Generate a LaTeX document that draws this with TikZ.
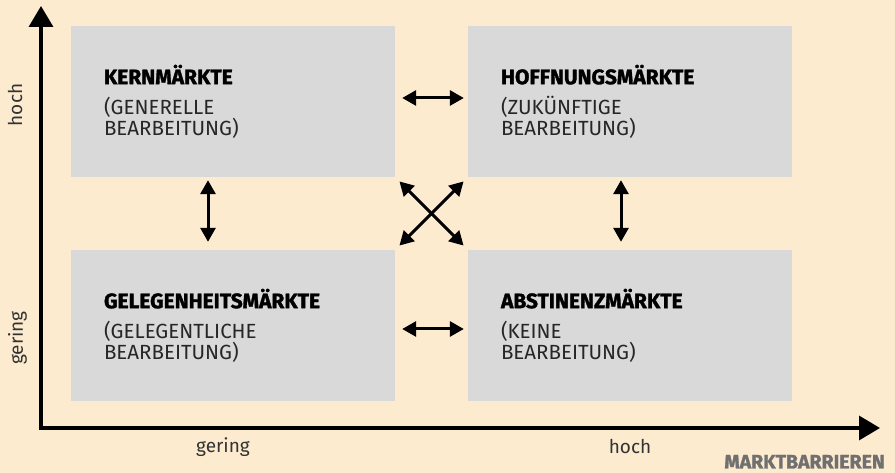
\documentclass[tikz,border=0pt]{standalone}
\usepackage{fontspec}
\usetikzlibrary{arrows.meta}
\setmainfont{Fira Sans}
\newfontfamily\blackfont{Fira Sans}[BoldFeatures={FakeBold=1.5}]
\newcommand\heavyfont{\blackfont\bfseries}
\newcommand\lightfont{\mdseries}
\definecolor{peach}{RGB}{253,235,207}
\definecolor{boxgray}{RGB}{217,217,217}
\definecolor{labelgray}{RGB}{51,51,51}
\definecolor{axisgray}{RGB}{112,112,112}

\tikzset{
  market/.style={fill=boxgray, minimum height=151pt, text width=258pt,
    inner xsep=33pt, inner ysep=0pt, align=left,
    font=\lightfont\fontsize{20.5}{21}\selectfont, text=black!85},
  biarrow/.style={line width=3pt,
    {Triangle[length=14pt,width=15pt]}-{Triangle[length=14pt,width=15pt]}},
  axis/.style={line width=3.5pt, -{Triangle[length=21pt,width=24pt]}},
  axislabel/.style={font=\lightfont\fontsize{19}{19}\selectfont, text=labelgray},
}

\begin{document}
\begin{tikzpicture}[x=1pt,y=1pt]
  \path[use as bounding box, fill=peach] (0,0) rectangle (895,473);

  % Markets
  \node[market] (kern) at (233,371.5)
    {{\heavyfont\fontsize{21}{21}\selectfont\color{black}KERNMÄRKTE}\\[9pt](GENERELLE\\BEARBEITUNG)};
  \node[market] (hoffnung) at (630,371.5)
    {{\heavyfont\fontsize{21}{21}\selectfont\color{black}HOFFNUNGSMÄRKTE}\\[9pt](ZUKÜNFTIGE\\BEARBEITUNG)};
  \node[market] (gelegenheit) at (233,147.5)
    {{\heavyfont\fontsize{21}{21}\selectfont\color{black}GELEGENHEITSMÄRKTE}\\[9pt](GELEGENTLICHE\\BEARBEITUNG)};
  \node[market] (abstinenz) at (630,147.5)
    {{\heavyfont\fontsize{21}{21}\selectfont\color{black}ABSTINENZMÄRKTE}\\[9pt](KEINE\\BEARBEITUNG)};

  % Transitions
  \draw[biarrow, shorten <=7pt, shorten >=4pt]
    ([yshift=3.5pt]kern.east) -- ([yshift=3.5pt]hoffnung.west);
  \draw[biarrow, shorten <=7pt, shorten >=4pt]
    ([yshift=-3.5pt]gelegenheit.east) -- ([yshift=-3.5pt]abstinenz.west);
  \draw[biarrow, shorten <=3pt, shorten >=8pt]
    ([xshift=-25pt]kern.south) -- ([xshift=-25pt]gelegenheit.north);
  \draw[biarrow, shorten <=3pt, shorten >=8pt]
    ([xshift=-9pt]hoffnung.south) -- ([xshift=-9pt]abstinenz.north);
  \draw[biarrow, shorten <=6pt, shorten >=6pt]
    (kern.south east) -- (abstinenz.north west);
  \draw[biarrow, shorten <=6pt, shorten >=6pt]
    (hoffnung.south west) -- (gelegenheit.north east);

  % Axes
  \coordinate (origin) at (41,45);
  \coordinate (ytop) at (41,467);
  \coordinate (xend) at (880,45);
  \draw[axis] ([yshift=-1.75pt]origin) -- (ytop);
  \draw[axis] ([xshift=-1.75pt]origin) -- (xend);

  \node[axislabel, rotate=90, anchor=base] (yhigh) at (22,368) {hoch};
  \node[axislabel, rotate=90, anchor=base] (ylow) at (23,135) {gering};
  \node[axislabel, anchor=base] (xlow) at (223,20) {gering};
  \node[axislabel, anchor=base] (xhigh) at (630,19) {hoch};
  \node[font=\heavyfont\fontsize{19.5}{19.5}\selectfont, text=axisgray,
    anchor=base east, inner sep=0pt] (xtitle) at (885,4.5) {MARKTBARRIEREN};
\end{tikzpicture}
\end{document}
